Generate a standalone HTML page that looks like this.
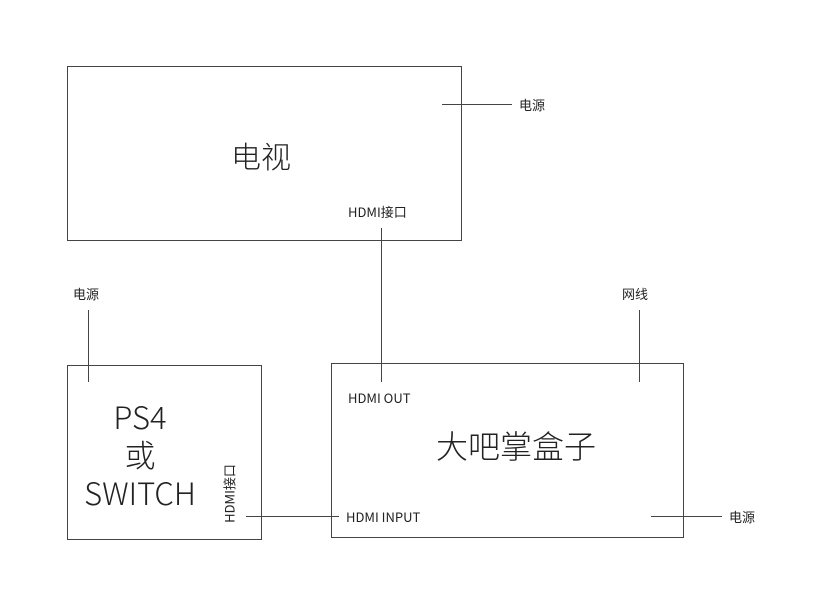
<!DOCTYPE html>
<html><head><meta charset="utf-8"><style>
body{margin:0;width:819px;height:596px;background:#fff;overflow:hidden;position:relative;font-family:"Noto Sans CJK SC","Liberation Sans",sans-serif;font-weight:300;color:#222}
.b{position:absolute;border:1.3px solid #444;box-sizing:border-box}
.l{position:absolute;background:#444}
.t{position:absolute;white-space:nowrap;line-height:1}
.s{font-size:13px;font-weight:400}
</style></head><body>
<div class="b" style="left:67px;top:66px;width:395px;height:175px"></div>
<div class="b" style="left:67px;top:365px;width:195px;height:175px"></div>
<div class="b" style="left:331px;top:363px;width:353px;height:175px"></div>
<div class="l" style="left:442px;top:104px;width:70px;height:1.3px"></div>
<div class="l" style="left:381px;top:228px;width:1.3px;height:154px"></div>
<div class="l" style="left:88px;top:310px;width:1.3px;height:72px"></div>
<div class="l" style="left:639px;top:310px;width:1.3px;height:72px"></div>
<div class="l" style="left:246px;top:516px;width:93px;height:1.3px"></div>
<div class="l" style="left:651px;top:516px;width:71px;height:1.3px"></div>
<div class="t s" style="left:519px;top:98px">电源</div>
<div class="t" style="left:231px;top:140px;font-size:30px">电视</div>
<div class="t s" style="left:348px;top:205px">HDMI接口</div>
<div class="t s" style="left:73px;top:287px">电源</div>
<div class="t s" style="left:622px;top:287px">网线</div>
<div class="t s" style="left:348px;top:391px">HDMI OUT</div>
<div class="t" style="left:436px;top:429px;font-size:32px">大吧掌盒子</div>
<div class="t s" style="left:346px;top:510px">HDMI INPUT</div>
<div class="t s" style="left:729px;top:510px">电源</div>
<div class="t" style="left:60px;top:397px;width:160px;text-align:center;font-size:31px;line-height:38px">PS4<br>或<br>SWITCH</div>
<div class="t s" style="left:194px;top:487px;transform:rotate(-90deg);transform-origin:center;width:70px;text-align:center">HDMI接口</div>
</body></html>
